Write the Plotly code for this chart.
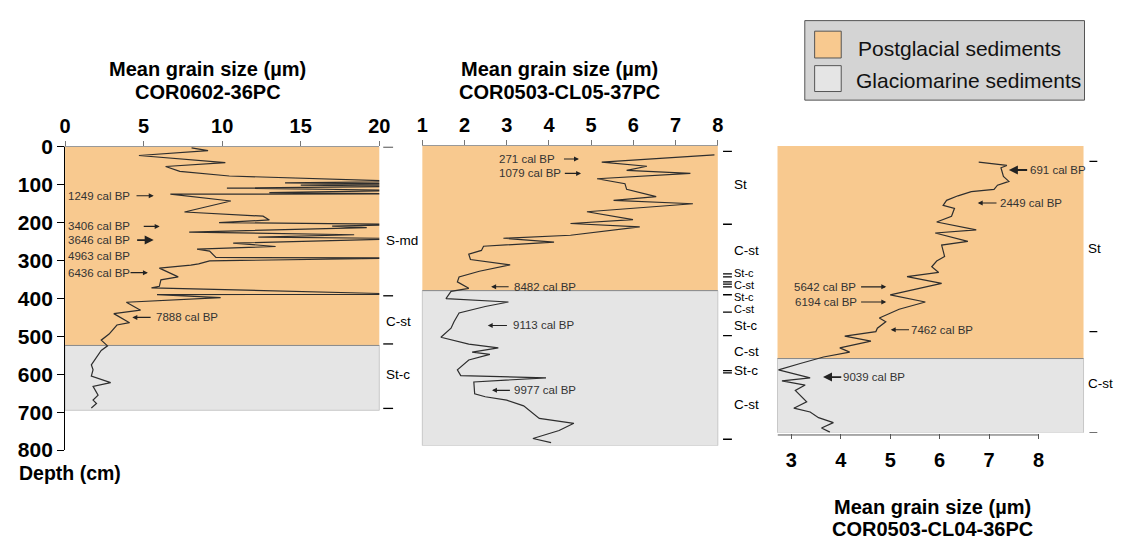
import plotly.graph_objects as go

W, H = 1129, 548

# ---- COR0602-36PC: mean grain size (um) vs depth (cm)
cor36_depth = [3, 10, 23, 42, 52, 65, 77, 92, 95, 98, 101, 104, 109, 115, 121, 124, 125,
               143, 172, 183, 193, 200, 205, 209, 213, 225, 232, 238, 242, 254, 263, 270, 275,
               292, 293, 301, 309, 312, 320, 343, 351, 368, 372, 389, 390, 398, 410,
               431, 440, 464, 470, 494, 510, 525, 537, 575, 588, 605, 622, 632, 655, 668, 677, 689]
cor36_size = [8.05, 9.1, 4.7, 10.2, 6.4, 7.3, 10.45, 22, 14, 22, 15, 22, 10.3, 22, 13, 22, 6.7,
              10.55, 7.6, 12.6, 13.0, 9.8, 22, 17, 19.2, 7.9, 18.4, 12.3, 22, 10.7, 13.4, 8.4, 9.2,
              9.6, 22, 9.2, 8.5, 8.0, 6.0, 7.2, 6.1, 6.0, 5.5, 22, 5.85, 9.9, 3.9,
              4.8, 3.1, 4.1, 3.3, 2.8, 2.3, 2.7, 2.3, 1.67, 1.78, 1.67, 2.9, 1.78, 2.1, 1.78, 2.0, 1.67]

# ---- COR0503-CL05-37PC
cl05_depth = [23, 42, 53, 64, 72, 86, 99, 114, 133, 143, 152, 173, 194, 204, 213, 235, 243,
              253, 264, 275, 285, 299, 313, 330, 345, 358, 375, 383, 402, 411, 423, 434, 440,
              463, 480, 504, 522, 532, 543, 549, 564, 590, 605, 611, 622, 653, 661, 670, 685,
              718, 731, 750, 771, 782]
cl05_size = [7.92, 5.25, 6.32, 5.84, 7.35, 5.14, 5.8, 5.84, 6.54, 5.53, 7.41, 4.9, 5.99, 4.51, 6.15, 4.51, 2.92,
             4.12, 2.45, 2.4, 2.1, 2.14, 3.08, 2.35, 1.87, 1.83, 2.1, 1.68, 1.56, 3.04, 2.49, 2.1, 1.87,
             1.75, 1.68, 1.44, 2.1, 2.8, 2.18, 2.6, 2.1, 1.83, 1.91, 3.93, 2.22, 2.24, 2.49, 3.0, 3.4,
             3.77, 4.59, 4.24, 3.62, 4.05]

# ---- COR0503-CL04-36PC
cl04_depth = [42, 51, 57, 80, 93, 103, 114, 120, 131, 143, 156, 164, 185, 200, 221, 229, 251, 261,
              291, 303, 318, 333, 344, 362, 392, 411, 430, 453, 463, 480, 489, 501, 514, 532, 543,
              556, 573, 590, 611, 619, 630, 644, 674, 691, 701, 716, 729, 743, 754]
cl04_size = [6.79, 7.36, 7.24, 7.29, 7.4, 7.17, 7.1, 6.64, 6.37, 6.14, 6.07, 6.3, 6.24, 5.94, 6.74, 5.91, 6.57, 6.04,
             6.1, 5.94, 5.84, 5.98, 5.34, 6.04, 5.0, 5.71, 5.18, 4.78, 4.91, 4.74, 4.71, 4.08, 4.61, 3.98, 4.18,
             3.65, 3.18, 2.74, 3.38, 2.81, 3.28, 3.08, 3.31, 3.05, 3.38, 3.55, 3.85, 3.61, 3.78]

assert len(cor36_depth) == len(cor36_size)
assert len(cl05_depth) == len(cl05_size)
assert len(cl04_depth) == len(cl04_size)

# sediment units (depth ranges, cm)
cor36_postglacial = (0, 524)
cor36_glaciomarine = (524, 695)
cl05_postglacial = (0, 381)
cl05_glaciomarine = (381, 790)
cl04_postglacial = (0, 560)
cl04_glaciomarine = (560, 756)

# lithology boundaries and facies labels (label, depth cm, font size)
cor36_bounds = [0, 393, 520, 690]
cor36_facies = [("S-md", 246, 13.5), ("C-st", 461, 13.5), ("St-c", 600, 13.5)]
cl05_bounds = [14, 206, 337, 345, 358, 364, 371, 392, 438, 500, 592, 598, 773]
cl05_facies = [("St", 101, 13.5), ("C-st", 274, 13.5), ("St-c", 335, 11), ("C-st", 366, 11),
               ("St-c", 397, 11), ("C-st", 430, 11), ("St-c", 473, 13), ("C-st", 541, 13.5),
               ("St-c", 591, 13.5), ("C-st", 682, 13.5)]
cl04_bounds = [40, 489, 756]
cl04_facies = [("St", 270, 13.5), ("C-st", 627, 13.5)]

# radiocarbon ages: (label, depth, arrow tail size, arrow head size, label size)
cor36_ages = [("1249 cal BP", 129, 4.45, 5.64, 0.25), ("3406 cal BP", 210, 4.91, 6.02, 0.25),
              ("3646 cal BP", 246, 4.49, 5.64, 0.25), ("4963 cal BP", 288, None, None, 0.25),
              ("6436 cal BP", 332, 4.07, 5.27, 0.25), ("7888 cal BP", 450, 5.54, 4.28, 5.82)]
cl05_ages = [("271 cal BP", 34, 4.32, 4.71, 2.85), ("1079 cal BP", 72, 4.34, 4.76, 2.85),
             ("8482 cal BP", 371, 3.08, 2.63, 3.2), ("9113 cal BP", 473, 3.04, 2.55, 3.17),
             ("9977 cal BP", 644, 3.11, 2.65, 3.2)]
cl04_ages = [("691 cal BP", 63, 7.80, 7.40, 7.84), ("2449 cal BP", 150, 7.18, 6.77, 7.25),
             ("5642 cal BP", 371, 4.38, 4.92, 3.08), ("6194 cal BP", 411, 4.38, 4.92, 3.09),
             ("7462 cal BP", 484, 5.41, 5.01, 5.45), ("9039 cal BP", 609, 4.04, 3.64, 4.07)]

ORANGE = "#F8C98F"
GREY = "#E5E5E5"
LINE = "#2e2e2e"
FONT = "Liberation Sans, Arial, sans-serif"


def px(x):
    return x / W


def py(y):
    return 1 - y / H


fig = go.Figure()

panels = [
    ("x", "y", cor36_size, cor36_depth),
    ("x2", "y2", cl05_size, cl05_depth),
    ("x3", "y3", cl04_size, cl04_depth),
]
for xa, ya, xs, ys in panels:
    fig.add_trace(go.Scatter(x=xs, y=ys, mode="lines", xaxis=xa, yaxis=ya,
                             line=dict(color=LINE, width=1.2), showlegend=False,
                             hoverinfo="skip"))

shapes = []
annotations = []

# unit shading
for xa, ya, pg, gm in [("x", "y", cor36_postglacial, cor36_glaciomarine),
                       ("x2", "y2", cl05_postglacial, cl05_glaciomarine),
                       ("x3", "y3", cl04_postglacial, cl04_glaciomarine)]:
    dom = xa + " domain"
    shapes.append(dict(type="rect", xref=dom, yref=ya, x0=0, x1=1, y0=pg[0], y1=pg[1],
                       fillcolor=ORANGE, line=dict(width=0), layer="below"))
    shapes.append(dict(type="rect", xref=dom, yref=ya, x0=0, x1=1, y0=gm[0], y1=gm[1],
                       fillcolor=GREY, line=dict(color="#C8C8C8", width=1), layer="below"))
    shapes.append(dict(type="line", xref=dom, yref=ya, x0=0, x1=1, y0=pg[1], y1=pg[1],
                       line=dict(color="#8a8a8a", width=1), layer="below"))

# facies boundaries and labels
for bounds, facies, ya, dash_x, lab_x in [
        (cor36_bounds, cor36_facies, "y", (383, 393), 385),
        (cl05_bounds, cl05_facies, "y2", (728, 737), 738),
        (cl04_bounds, cl04_facies, "y3", (1100, 1108), 1098)]:
    for b in bounds:
        shapes.append(dict(type="line", xref="paper", yref=ya, x0=px(dash_x[0]), x1=px(dash_x[1]),
                           y0=b, y1=b, line=dict(color="black", width=1.3)))
    for lab, d, fs in facies:
        annotations.append(dict(text=lab, xref="paper", yref=ya, x=px(lab_x), y=d,
                                xanchor="left", yanchor="middle", showarrow=False,
                                borderpad=0, font=dict(family=FONT, size=fs, color="black")))

# dated levels
for ages, xa, ya in [(cor36_ages, "x", "y"), (cl05_ages, "x2", "y2"), (cl04_ages, "x3", "y3")]:
    for lab, d, tail, head, tx in ages:
        annotations.append(dict(text=lab, xref=xa, yref=ya, x=tx, y=d, xanchor="left",
                                yanchor="middle", showarrow=False, xshift=-2, borderpad=0,
                                font=dict(family=FONT, size=11.5, color="#333333")))
        if tail is not None:
            big = lab in ("3646 cal BP", "691 cal BP", "9039 cal BP")
            annotations.append(dict(text="", xref=xa, yref=ya, x=head, y=d,
                                    axref=xa, ayref=ya, ax=tail, ay=d, showarrow=True,
                                    arrowhead=2, arrowsize=1.0 if big else 0.9,
                                    arrowwidth=1.8 if big else 1.1, arrowcolor="#222222",
                                    standoff=0, startstandoff=0))

# panel titles
for cx, y1, y2, core in [(205, 60, 84, "COR0602-36PC"), (562, 60, 84, "COR0503-CL05-37PC"),
                         (941, 517, 540, "COR0503-CL04-36PC")]:
    annotations.append(dict(text="<b>Mean grain size (µm)</b>", xref="paper", yref="paper",
                            x=px(cx), y=py(y1), xanchor="center", yanchor="middle",
                            showarrow=False, borderpad=0,
                            font=dict(family=FONT, size=20, color="black")))
    annotations.append(dict(text="<b>%s</b>" % core, xref="paper", yref="paper",
                            x=px(cx), y=py(y2), xanchor="center", yanchor="middle",
                            showarrow=False, borderpad=0,
                            font=dict(family=FONT, size=20, color="black")))

annotations.append(dict(text="<b>Depth (cm)</b>", xref="paper", yref="paper", x=px(12), y=py(481),
                        xanchor="left", yanchor="middle", showarrow=False, borderpad=0,
                        font=dict(family=FONT, size=19.5, color="black")))

# bottom axis line of the right panel (stops at 8)
shapes.append(dict(type="line", xref="x3", yref="paper", x0=2.72, x1=8, y0=py(441.5), y1=py(441.5),
                   line=dict(color="#555555", width=1)))

# legend box
shapes.append(dict(type="rect", xref="paper", yref="paper", x0=px(811), x1=px(1095),
                   y0=py(92), y1=py(9), fillcolor="#D4D4D4", line=dict(color="#555555", width=1)))
shapes.append(dict(type="rect", xref="paper", yref="paper", x0=px(821), x1=px(848),
                   y0=py(48), y1=py(20), fillcolor=ORANGE, line=dict(color="#555555", width=1)))
shapes.append(dict(type="rect", xref="paper", yref="paper", x0=px(821), x1=px(848),
                   y0=py(83), y1=py(56), fillcolor=GREY, line=dict(color="#555555", width=1)))
annotations.append(dict(text="Postglacial sediments", xref="paper", yref="paper", x=px(864),
                        y=py(38), xanchor="left", yanchor="middle", showarrow=False, borderpad=0,
                        font=dict(family=FONT, size=21, color="#111111")))
annotations.append(dict(text="Glaciomarine sediments", xref="paper", yref="paper", x=px(862),
                        y=py(71), xanchor="left", yanchor="middle", showarrow=False, borderpad=0,
                        font=dict(family=FONT, size=21, color="#111111")))

tickfont = dict(family=FONT, size=20, color="black")

fig.update_layout(
    width=W, height=H, margin=dict(l=0, r=0, t=0, b=0),
    paper_bgcolor="white", plot_bgcolor="rgba(0,0,0,0)",
    shapes=shapes, annotations=annotations, showlegend=False,
    xaxis=dict(domain=[px(60), px(379)], range=[0, 20], side="top", anchor="y",
               tickvals=[0, 5, 10, 15, 20], ticktext=["<b>%d</b>" % v for v in [0, 5, 10, 15, 20]],
               ticks="outside", ticklen=5, tickcolor="#777777", showline=True,
               linecolor="#999999", linewidth=1, showgrid=False, zeroline=False,
               tickfont=tickfont),
    yaxis=dict(domain=[py(457.3), py(140.7)], range=[800, 0], anchor="x",
               tickvals=list(range(0, 801, 100)),
               ticktext=["<b>%d</b>" % v for v in range(0, 801, 100)],
               ticks="outside", ticklen=7, tickcolor="black", showline=True,
               linecolor="black", linewidth=1, showgrid=False, zeroline=False,
               tickfont=dict(family=FONT, size=21, color="black")),
    xaxis2=dict(domain=[px(422.7), px(722.7)], range=[1, 8], side="top", anchor="y2",
                tickvals=list(range(1, 9)), ticktext=["<b>%d</b>" % v for v in range(1, 9)],
                ticks="outside", ticklen=5, tickcolor="#777777", showline=True,
                linecolor="#999999", linewidth=1, showgrid=False, zeroline=False,
                tickfont=tickfont),
    yaxis2=dict(domain=[py(452.7), py(140)], range=[790, 0], anchor="x2", visible=False),
    xaxis3=dict(domain=[px(783.3), px(1094)], range=[2.72, 8.91], side="bottom", anchor="y3",
                tickvals=list(range(3, 9)), ticktext=["<b>%d</b>" % v for v in range(3, 9)],
                ticks="outside", ticklen=5, tickcolor="#555555", showline=False,
                ticklabelstandoff=4,
                showgrid=False, zeroline=False, tickfont=dict(family=FONT, size=20, color="black")),
    yaxis3=dict(domain=[py(439.3), py(140)], range=[756, 0], anchor="x3", visible=False),
)

fig.write_html("out.html")
